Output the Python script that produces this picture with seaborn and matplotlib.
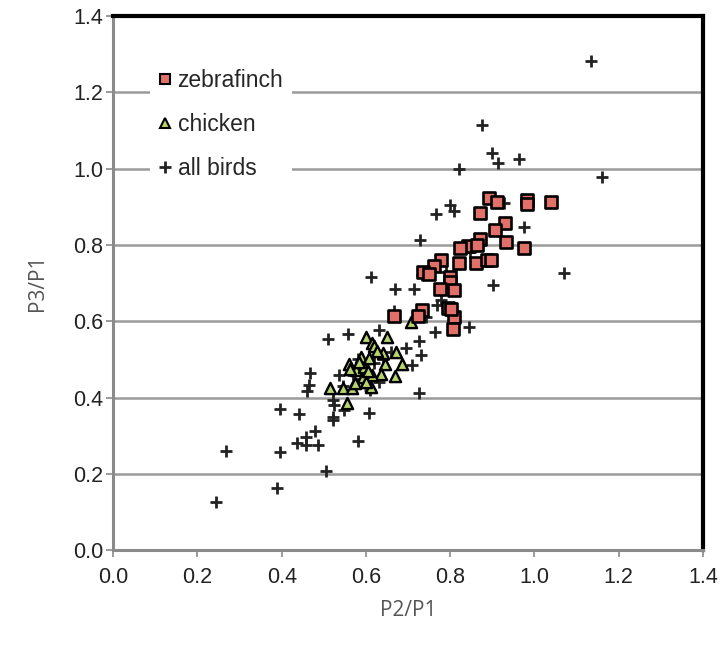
import matplotlib
matplotlib.use("Agg")
import matplotlib.pyplot as plt
import seaborn as sns
import pandas as pd
from matplotlib.lines import Line2D

# P2/P1 and P3/P1 ratios per species
zebrafinch_x = [0.892, 0.912, 0.982, 0.982, 1.040, 0.871, 0.930, 0.907, 0.932, 0.974,
                0.871, 0.843, 0.824, 0.864, 0.822, 0.862, 0.887, 0.897, 0.777, 0.762,
                0.735, 0.749, 0.800, 0.800, 0.776, 0.810, 0.795, 0.810, 0.806, 0.733,
                0.723, 0.667, 0.803]
zebrafinch_y = [0.924, 0.914, 0.918, 0.908, 0.914, 0.885, 0.857, 0.840, 0.809, 0.792,
                0.817, 0.798, 0.793, 0.799, 0.754, 0.753, 0.760, 0.761, 0.762, 0.746,
                0.729, 0.724, 0.715, 0.703, 0.686, 0.681, 0.634, 0.611, 0.579, 0.629,
                0.614, 0.613, 0.632]

chicken_x = [0.706, 0.599, 0.651, 0.615, 0.618, 0.672, 0.641, 0.588, 0.608, 0.646,
             0.685, 0.560, 0.576, 0.635, 0.669, 0.615, 0.592, 0.515, 0.545, 0.568,
             0.612, 0.556, 0.595, 0.575, 0.627, 0.604, 0.583, 0.562, 0.600]
chicken_y = [0.599, 0.558, 0.560, 0.542, 0.535, 0.520, 0.516, 0.507, 0.503, 0.489,
             0.488, 0.489, 0.472, 0.463, 0.456, 0.459, 0.454, 0.424, 0.424, 0.424,
             0.428, 0.385, 0.481, 0.438, 0.521, 0.470, 0.494, 0.476, 0.440]

allbirds_x = [1.134, 0.875, 0.899, 0.914, 0.964, 0.820, 1.160, 0.800, 0.810, 0.767,
              0.927, 0.974, 0.729, 0.848, 1.069, 0.613, 0.670, 0.713, 0.790, 0.732,
              0.902, 0.777, 0.769, 0.666, 0.742, 0.844, 0.764, 0.632, 0.557, 0.510,
              0.726, 0.694, 0.730, 0.710, 0.467, 0.464, 0.461, 0.537, 0.726, 0.608,
              0.521, 0.525, 0.521, 0.521, 0.548, 0.397, 0.442, 0.478, 0.458, 0.458,
              0.437, 0.486, 0.582, 0.504, 0.267, 0.396, 0.388, 0.244,
              0.580, 0.600, 0.620, 0.590, 0.640, 0.570, 0.630, 0.610, 0.545, 0.660]
allbirds_y = [1.283, 1.116, 1.042, 1.015, 1.026, 1.000, 0.979, 0.904, 0.889, 0.881,
              0.910, 0.848, 0.814, 0.782, 0.727, 0.717, 0.686, 0.686, 0.730, 0.722,
              0.695, 0.655, 0.642, 0.626, 0.612, 0.584, 0.572, 0.576, 0.567, 0.553,
              0.549, 0.529, 0.511, 0.485, 0.464, 0.432, 0.418, 0.459, 0.411, 0.360,
              0.393, 0.380, 0.350, 0.341, 0.367, 0.369, 0.358, 0.312, 0.297, 0.275,
              0.281, 0.275, 0.286, 0.207, 0.260, 0.258, 0.164, 0.125,
              0.500, 0.470, 0.490, 0.450, 0.500, 0.460, 0.440, 0.420, 0.430, 0.520]

ticks = [0.0, 0.2, 0.4, 0.6, 0.8, 1.0, 1.2, 1.4]
tick_labels = ["0.0", "0.2", "0.4", "0.6", "0.8", "1.0", "1.2", "1.4"]

sns.set_theme(style="white")
plt.rcParams["font.family"] = ["Liberation Sans", "DejaVu Sans"]

fig = plt.figure(figsize=(7.21, 6.48), dpi=100)
ax = fig.add_axes([0.157, 0.151, 0.818, 0.824])

sq_color = "#E2706A"
tri_color = "#B8D46E"

df_all = pd.DataFrame({"x": allbirds_x, "y": allbirds_y})
df_zf = pd.DataFrame({"x": zebrafinch_x, "y": zebrafinch_y})
df_ch = pd.DataFrame({"x": chicken_x, "y": chicken_y})

sns.scatterplot(data=df_all, x="x", y="y", marker="+", s=85, color="#222222",
                linewidth=2.0, ax=ax, zorder=3)
sns.scatterplot(data=df_ch, x="x", y="y", marker="^", s=65, color=tri_color,
                edgecolor="black", linewidth=1.7, ax=ax, zorder=4)
sns.scatterplot(data=df_zf, x="x", y="y", marker="s", s=75, color=sq_color,
                edgecolor="black", linewidth=1.9, ax=ax, zorder=5)

ax.set_xlim(0, 1.4)
ax.set_ylim(0, 1.4)
ax.set_xticks(ticks)
ax.set_xticklabels(tick_labels)
ax.set_yticks(ticks)
ax.set_yticklabels(tick_labels)

ax.yaxis.grid(True, color="#9a9a9a", linewidth=1.8)
ax.xaxis.grid(False)
ax.set_axisbelow(True)

for side in ("left", "bottom"):
    ax.spines[side].set_color("#8a8a8a")
    ax.spines[side].set_linewidth(2.2)
for side in ("top", "right"):
    ax.spines[side].set_color("black")
    ax.spines[side].set_linewidth(3.0)

ax.tick_params(axis="both", which="major", direction="out", length=5, width=1.2,
               color="#8a8a8a", labelsize=15.5, labelcolor="#222222",
               left=True, bottom=True)
ax.tick_params(axis="y", pad=2)
ax.tick_params(axis="x", pad=7)

ax.set_xlabel("P2/P1", fontsize=15, color="#555555", family=["Open Sans", "DejaVu Sans"],
              labelpad=9)
ax.set_ylabel("P3/P1", fontsize=15, color="#555555", family=["Open Sans", "DejaVu Sans"],
              labelpad=18)

handles = [
    Line2D([], [], linestyle="none", marker="s", markersize=7, markerfacecolor=sq_color,
           markeredgecolor="black", markeredgewidth=1.5),
    Line2D([], [], linestyle="none", marker="^", markersize=7, markerfacecolor=tri_color,
           markeredgecolor="black", markeredgewidth=1.5),
    Line2D([], [], linestyle="none", marker="+", markersize=9, color="#222222",
           markeredgewidth=2.0),
]
leg = ax.legend(handles, ["zebrafinch", "chicken", "all birds"], loc="upper left",
                bbox_to_anchor=(0.043, 0.94), frameon=True, facecolor="white",
                edgecolor="none", framealpha=1, fontsize=16.5, labelspacing=0.92,
                handlelength=0.5, handletextpad=0.3, borderpad=0.4, fancybox=False)
leg.set_zorder(6)

fig.savefig("out.png", dpi=100)
